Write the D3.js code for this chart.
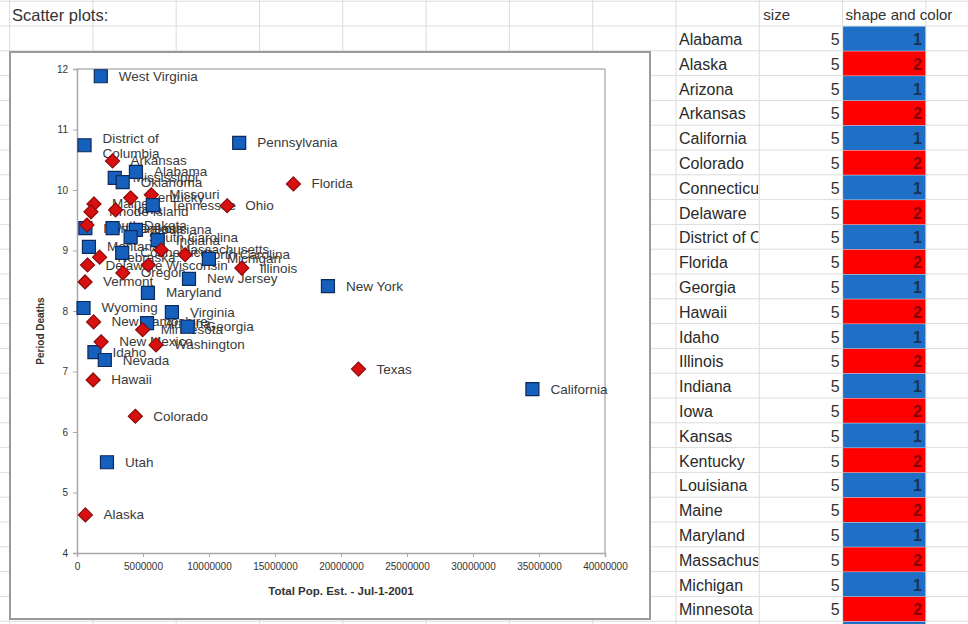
<!DOCTYPE html>
<html>
<head>
<meta charset="utf-8">
<script src="https://cdn.jsdelivr.net/npm/d3@7"></script>
<style>
html,body{margin:0;padding:0;background:#fff;}
svg{display:block;font-family:"Liberation Sans",Arial,sans-serif;}
</style>
</head>
<body>
<svg id="c" width="968" height="624"></svg>
<script>
// ---------------- data ----------------
const states = ["Alabama","Alaska","Arizona","Arkansas","California","Colorado","Connecticut","Delaware","District of Columbia","Florida","Georgia","Hawaii","Idaho","Illinois","Indiana","Iowa","Kansas","Kentucky","Louisiana","Maine","Maryland","Massachusetts","Michigan","Minnesota","Mississippi","Missouri","Montana","Nebraska","Nevada","New Hampshire","New Jersey","New Mexico","New York","North Carolina","North Dakota","Ohio","Oklahoma","Oregon","Pennsylvania","Rhode Island","South Carolina","South Dakota","Tennessee","Texas","Utah","Vermont","Virginia","Washington","West Virginia","Wisconsin","Wyoming"];
const tableNames = ["Alabama","Alaska","Arizona","Arkansas","California","Colorado","Connecticut","Delaware","District of Columbia","Florida","Georgia","Hawaii","Idaho","Illinois","Indiana","Iowa","Kansas","Kentucky","Louisiana","Maine","Maryland","Massachusetts","Michigan","Minnesota","Mississippi"];
const population = [4464356,634892,5307331,2692090,34501130,4417714,3425074,796165,571822,16396515,8383915,1224398,1321006,12482301,6114745,2923179,2694641,4065556,4465430,1286670,5375156,6379304,9990817,4972294,2858029,5629707,904433,1713235,2106074,1259181,8484431,1829146,19011378,8186268,634448,11373541,3460097,3472867,12287150,1058920,4063011,756600,5740021,21325018,2269789,613090,7187734,5987973,1801916,5401906,494423];
const periodDeaths = [10.30,4.63,7.80,10.48,6.71,6.26,8.96,8.76,10.74,10.10,7.74,6.86,7.32,8.71,9.17,9.67,9.37,9.87,9.34,9.77,8.30,9.01,8.86,7.69,10.20,9.92,9.06,8.89,7.19,7.82,8.53,7.49,8.41,8.93,9.37,9.74,10.13,8.63,10.78,9.64,9.22,9.42,9.75,7.04,5.50,8.48,7.98,7.44,11.88,8.76,8.05];
const shapeColor = [1,2,1,2,1,2,1,2,1,2,1,2,1,2,1,2,1,2,1,2,1,2,1,2,1,2,1,2,1,2,1,2,1,2,1,2,1,2,1,2,1,2,1,2,1,2,1,2,1,2,1];
const markerSize = [5,5,5,5,5,5,5,5,5,5,5,5,5,5,5,5,5,5,5,5,5,5,5,5,5];
const xTicks = [0,5000000,10000000,15000000,20000000,25000000,30000000,35000000,40000000];
const yTicks = [4,5,6,7,8,9,10,11,12];
const xTitle = "Total Pop. Est. - Jul-1-2001";
const yTitle = "Period Deaths";

// ---------------- spreadsheet background ----------------
const svg = d3.select("#c");
const W = 968, H = 624;
const colW = 83.3, col0 = 9.6;
const rowH = 24.8, row0 = 1.2;
const grid = svg.append("g");
const colLines = d3.range(0, 12).map(k => col0 + colW * k);
const rowLines = d3.range(0, 26).map(k => row0 + rowH * k);
grid.selectAll("line.v").data(colLines).join("line")
  .attr("x1", d => d).attr("x2", d => d).attr("y1", 0).attr("y2", H)
  .attr("stroke", "#dcdcdc").attr("stroke-width", 1);
grid.selectAll("line.h").data(rowLines).join("line")
  .attr("x1", 0).attr("x2", W).attr("y1", d => d).attr("y2", d => d)
  .attr("stroke", "#dcdcdc").attr("stroke-width", 1);

svg.append("text").attr("x", 12).attr("y", 15).attr("dominant-baseline", "central")
  .attr("font-size", 16.5).attr("fill", "#333").text("Scatter plots:");

// table
const nameX = col0 + colW * 8, sizeX = col0 + colW * 9, fillX = col0 + colW * 10;
svg.append("text").attr("x", sizeX + 4).attr("y", 14).attr("dominant-baseline", "central")
  .attr("font-size", 15).attr("fill", "#333").text("size");
svg.append("text").attr("x", fillX + 3).attr("y", 14).attr("dominant-baseline", "central")
  .attr("font-size", 15).attr("fill", "#333").text("shape and color");

const defs = svg.append("defs");
defs.append("clipPath").attr("id", "nameClip").append("rect")
  .attr("x", nameX).attr("y", 0).attr("width", colW - 1).attr("height", H);

const trow = svg.append("g");
tableNames.forEach((n, i) => {
  const top = row0 + rowH * (i + 1);
  const cy = top + rowH / 2;
  const code = shapeColor[i];
  trow.append("rect").attr("x", fillX + 0.5).attr("y", top + 0.5)
    .attr("width", colW - 1).attr("height", rowH - 0.5)
    .attr("fill", code === 1 ? "#1f6fc6" : "#fe0000");
  if (cy + 8 > H) return; // row only partly visible: text falls below the window
  trow.append("text").attr("x", nameX + 3).attr("y", cy + 1).attr("dominant-baseline", "central")
    .attr("clip-path", "url(#nameClip)")
    .attr("font-size", 16).attr("fill", "#2a2a2a").text(n);
  trow.append("text").attr("x", fillX - 3).attr("y", cy + 1).attr("dominant-baseline", "central")
    .attr("text-anchor", "end").attr("font-size", 16).attr("fill", "#333").text(markerSize[i]);
  trow.append("text").attr("x", fillX + colW - 4).attr("y", cy + 1).attr("dominant-baseline", "central")
    .attr("text-anchor", "end").attr("font-size", 16).attr("font-weight", "bold")
    .attr("fill", code === 1 ? "#17325e" : "#8a0000").text(code);
});

// ---------------- chart ----------------
const chart = svg.append("g");
chart.append("rect").attr("x", 10).attr("y", 52).attr("width", 640).attr("height", 567)
  .attr("fill", "#fff").attr("stroke", "#9a9a9a").attr("stroke-width", 2);

const x = d3.scaleLinear().domain([0, 40000000]).range([77, 605]);
const y = d3.scaleLinear().domain([4, 12]).range([553, 69]);

// plot frame
chart.append("line").attr("x1", x(0)).attr("x2", x(40000000)).attr("y1", y(12)).attr("y2", y(12))
  .attr("stroke", "#b4b4b4").attr("stroke-width", 1.5);
chart.append("line").attr("x1", x(40000000)).attr("x2", x(40000000)).attr("y1", y(12)).attr("y2", y(4))
  .attr("stroke", "#b4b4b4").attr("stroke-width", 1.5);

const xAxis = chart.append("g").attr("transform", `translate(0,${y(4)})`)
  .call(d3.axisBottom(x).tickValues(xTicks).tickSize(4).tickPadding(6).tickFormat(d3.format("d")));
const yAxis = chart.append("g").attr("transform", `translate(${x(0)},0)`)
  .call(d3.axisLeft(y).tickValues(yTicks).tickSize(4).tickPadding(5).tickFormat(d3.format("d")));
[xAxis, yAxis].forEach(a => {
  a.select(".domain").attr("stroke", "#a8a8a8").attr("stroke-width", 1.5);
  a.selectAll(".tick line").attr("stroke", "#a8a8a8");
  a.selectAll(".tick text").attr("fill", "#333").attr("font-size", 10)
    .attr("font-family", "'Liberation Sans',Arial,sans-serif");
});

chart.append("text").attr("x", 341).attr("y", 591).attr("text-anchor", "middle")
  .attr("dominant-baseline", "central").attr("font-size", 11.5).attr("font-weight", "bold")
  .attr("fill", "#333").text(xTitle);
chart.append("text").attr("transform", "translate(40,331) rotate(-90)").attr("text-anchor", "middle")
  .attr("dominant-baseline", "central").attr("font-size", 10).attr("font-weight", "bold")
  .attr("fill", "#333").text(yTitle);

const pts = states.map((s, i) => ({ name: s, px: population[i], val: periodDeaths[i], code: shapeColor[i] }));

// labels
const lab = chart.append("g");
pts.forEach(p => {
  const cx = x(p.px), cy = y(p.val);
  if (p.name === "District of Columbia") {
    lab.append("text").attr("x", cx + 18).attr("y", cy - 7).attr("dominant-baseline", "central")
      .attr("font-size", 13.5).attr("fill", "#3a3a3a").text("District of");
    lab.append("text").attr("x", cx + 18).attr("y", cy + 8).attr("dominant-baseline", "central")
      .attr("font-size", 13.5).attr("fill", "#3a3a3a").text("Columbia");
  } else {
    lab.append("text").attr("x", cx + 18).attr("y", cy).attr("dominant-baseline", "central")
      .attr("font-size", 13.5).attr("fill", "#3a3a3a").text(p.name);
  }
});

// markers
const mk = chart.append("g");
mk.selectAll("path").data(pts).join("path")
  .attr("transform", d => `translate(${x(d.px)},${y(d.val)})`)
  .attr("d", d => d.code === 1 ? "M-6.5,-6.5H6.5V6.5H-6.5Z" : "M0,-7L7,0L0,7L-7,0Z")
  .attr("fill", d => d.code === 1 ? "#1560bd" : "#d8100f")
  .attr("stroke", d => d.code === 1 ? "#0d2a5c" : "#8c0a0a")
  .attr("stroke-width", 1.2);
</script>
</body>
</html>
